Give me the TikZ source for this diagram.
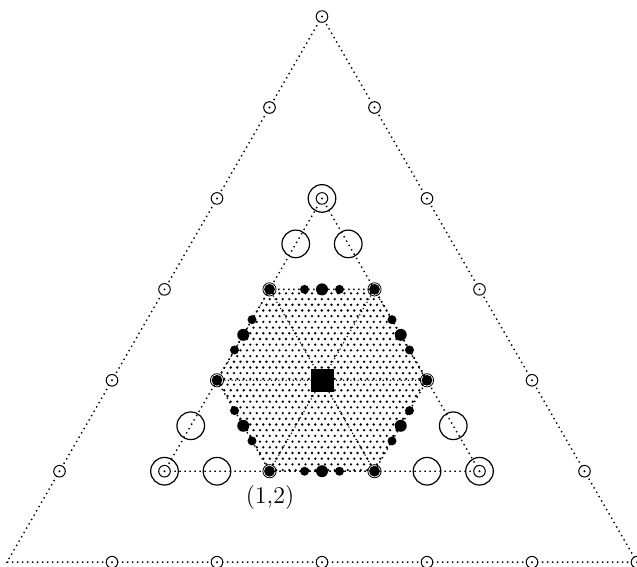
\documentclass[tikz,border=0pt]{standalone}
\usetikzlibrary{calc,patterns}
\pgfdeclarepatternformonly{stagdots}{\pgfqpoint{-0.8pt}{-0.8pt}}{\pgfqpoint{2.5pt}{3.7pt}}{\pgfqpoint{3.25pt}{5.7pt}}{%
  \pgfpathcircle{\pgfqpoint{0pt}{0pt}}{0.65pt}%
  \pgfpathcircle{\pgfqpoint{1.625pt}{2.85pt}}{0.65pt}%
  \pgfusepath{fill}}
\begin{document}
\begin{tikzpicture}[x=0.5pt,y=0.5pt,
  dotline/.style={line width=0.7pt, dash pattern=on 0.7pt off 1.8pt},
  fineline/.style={line width=0.55pt, dash pattern=on 0.55pt off 1.25pt},
  lat/.style={draw, circle, fill=white, inner sep=0pt, minimum size=5.8pt, line width=0.5pt},
  bigring/.style={draw, circle, inner sep=0pt, minimum size=13.8pt, line width=0.6pt},
  wdot/.style={fill, circle, inner sep=0pt, minimum size=6pt},
  sdot/.style={fill, circle, inner sep=0pt, minimum size=4.5pt},
  vdot/.style={fill, circle, inner sep=0pt, minimum size=5.4pt},
  vring/.style={draw, circle, inner sep=0pt, minimum size=6.6pt, line width=0.4pt},
  sq/.style={fill, rectangle, inner sep=0pt, minimum size=11.5pt}]
\useasboundingbox (-322,-186.7) rectangle (315,380.3);
\coordinate (O) at (0,0);
\coordinate (T) at (90:363.73);
\coordinate (BL) at (210:363.73);
\coordinate (BR) at (330:363.73);
\coordinate (IT) at (90:181.87);
\coordinate (IBL) at (210:181.87);
\coordinate (IBR) at (330:181.87);
\foreach \i in {0,...,5} \coordinate (h\i) at (\i*60:105);
% hexagon fill
\fill[pattern=stagdots] (h0)--(h1)--(h2)--(h3)--(h4)--(h5)--cycle;
% lines
\draw[dotline] (T)--(BL)--(BR)--cycle;
\draw[dotline] (IT)--(IBL)--(IBR)--cycle;
\draw[dotline] (h0)--(h1)--(h2)--(h3)--(h4)--(h5)--cycle;
\draw[fineline] (h0)--(h3) (h1)--(h4) (h2)--(h5);
% outer lattice points
\foreach \k in {1,...,6} {\node[lat] (l\k) at ($(BL)!\k/6!(T)$) {}; \fill (l\k.center) circle (1.1);}
\foreach \k in {0,...,5} {\node[lat] (r\k) at ($(BR)!\k/6!(T)$) {}; \fill (r\k.center) circle (1.1);}
\foreach \k in {1,...,5} {\node[lat] (b\k) at ($(BL)!\k/6!(BR)$) {}; \fill (b\k.center) circle (1.1);}
% inner triangle rings
\node[bigring] (ia) at ($(IT)!1/6!(IBL)$) {};
\node[bigring] (ib) at ($(IT)!5/6!(IBL)$) {};
\node[bigring] (ic) at ($(IT)!1/6!(IBR)$) {};
\node[bigring] (id) at ($(IT)!5/6!(IBR)$) {};
\node[bigring] (ie) at ($(IBL)!1/6!(IBR)$) {};
\node[bigring] (if) at ($(IBL)!5/6!(IBR)$) {};
\foreach \c in {IT,IBL,IBR} {
  \node[bigring] (R\c) at (\c) {};
  \node[lat] (L\c) at (\c) {};
  \fill (L\c.center) circle (1.1);
}
% hexagon edge dots
\foreach \i [evaluate=\i as \j using {int(mod(\i+1,6))}] in {0,...,5} {
  \node[sdot] (s\i a) at ($(h\i)!1/3!(h\j)$) {};
  \node[wdot] (w\i) at ($(h\i)!1/2!(h\j)$) {};
  \node[sdot] (s\i b) at ($(h\i)!2/3!(h\j)$) {};
}
\foreach \i in {0,...,5} {
  \node[vdot] (v\i) at (h\i) {};
  \node[vring] (vr\i) at (h\i) {};
}
% centre
\node[sq] (c) at (O) {};
% label
\node[font=\large, inner sep=0pt] (lab) at (-52,-117) {(1,2)};
\end{tikzpicture}
\end{document}
